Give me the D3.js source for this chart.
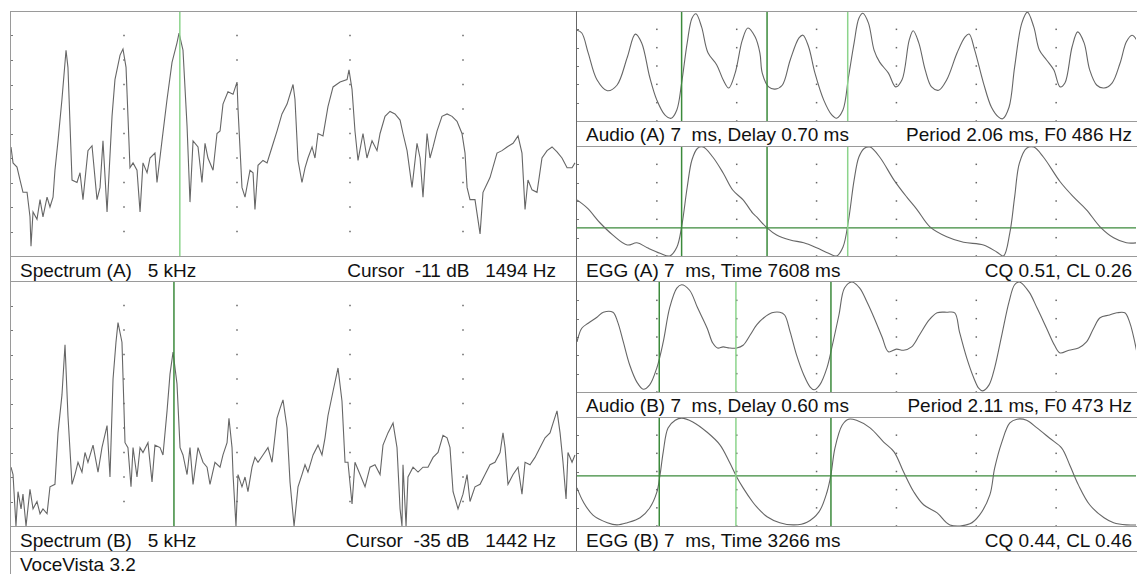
<!DOCTYPE html>
<html>
<head>
<meta charset="utf-8">
<script src="https://cdn.jsdelivr.net/npm/d3@7/dist/d3.min.js"></script>
<style>
  body { margin: 0; background: #fff; }
  text { font-family: Arial, "Liberation Sans", sans-serif; font-size: 19px; fill: #111; white-space: pre; }
</style>
</head>
<body>
<svg id="chart" width="1137" height="574"></svg>
<script>
// spectrum (A): [Hz, dB]
const specA = [[0,-55.5],[18,-62],[53,-63.7],[80,-69],[106,-74],[142,-74],[168,-84],[177,-96],[195,-82],[230,-85],
  [257,-77],[283,-84],[319,-76],[345,-80],[372,-76],[389,-65],[416,-53],[451,-36],[487,-16],[504,-23],[540,-69],
  [584,-70],[611,-66],[637,-77],[681,-57],[717,-55],[761,-77],[788,-72],[814,-53],[850,-82],[894,-43],[920,-28],
  [965,-18],[991,-15.5],[1018,-23],[1053,-64],[1080,-62],[1115,-65],[1142,-82],[1168,-62],[1204,-66],[1230,-60],
  [1274,-58],[1292,-70],[1336,-53],[1381,-36],[1425,-21],[1469,-13],[1487,-9],[1522,-16],[1558,-47],[1584,-78],
  [1611,-53],[1655,-55.5],[1690,-70],[1717,-54],[1743,-60],[1788,-65],[1823,-50],[1850,-49],[1876,-38],[1920,-33],
  [1965,-34],[2000,-29],[2009,-40],[2044,-72],[2071,-76],[2115,-65],[2142,-66],[2159,-81],[2186,-63],[2230,-61],
  [2266,-62],[2310,-55.5],[2354,-49],[2398,-42],[2443,-38],[2496,-30],[2513,-36],[2540,-61],[2575,-70],[2602,-64],
  [2628,-60],[2664,-55.5],[2690,-60],[2717,-50],[2761,-51],[2805,-39],[2850,-31],[2912,-29],[2974,-28],[2991,-24],
  [3018,-32],[3044,-49],[3071,-61],[3115,-50],[3150,-60],[3195,-53],[3239,-57],[3266,-50],[3310,-43],[3354,-41],
  [3398,-42],[3443,-44.5],[3469,-50],[3505,-57],[3549,-72],[3593,-54],[3620,-60],[3646,-76],[3682,-50],[3708,-60],
  [3735,-55.5],[3770,-49],[3814,-43],[3859,-42],[3903,-43],[3947,-45],[3991,-50],[4018,-58],[4036,-72],[4062,-77],
  [4106,-77],[4151,-91],[4177,-74],[4239,-68],[4301,-58],[4345,-57],[4390,-55.5],[4443,-54],[4487,-51],[4522,-58],
  [4549,-81],[4575,-69],[4611,-73],[4655,-74],[4699,-60],[4744,-57],[4788,-55.5],[4832,-57.5],[4876,-60],[4921,-64],
  [4965,-64],[4991,-62]];

// spectrum (B): [Hz, dB]
const specB = [[0,-76],[18,-79],[44,-100],[62,-86],[89,-93],[106,-87],[133,-100],[168,-85],[195,-93],[230,-90],
  [257,-95],[283,-93],[319,-95],[345,-84],[389,-83],[416,-62],[451,-46.5],[478,-26],[504,-55],[540,-83],[566,-79],
  [593,-74],[628,-78],[655,-70],[681,-74],[726,-67],[770,-78],[805,-68],[850,-59],[876,-80],[903,-40],[929,-25],
  [947,-17],[982,-25],[1009,-66],[1035,-68],[1062,-84],[1080,-68],[1115,-80],[1142,-68],[1168,-70],[1212,-66],
  [1248,-82],[1274,-67],[1319,-68],[1345,-71],[1381,-53],[1407,-38],[1434,-29],[1469,-42],[1496,-68],[1522,-71],
  [1558,-79],[1584,-68],[1611,-83],[1655,-68],[1699,-74],[1735,-76],[1761,-83],[1805,-74],[1850,-76],[1876,-71],
  [1912,-66],[1929,-56],[1956,-68],[1965,-79],[1991,-100],[2009,-79],[2044,-84],[2071,-80],[2097,-86],[2133,-76],
  [2159,-72],[2186,-74],[2230,-71],[2274,-68],[2310,-74],[2354,-56],[2381,-52],[2407,-48.5],[2443,-60],[2469,-82],
  [2505,-100],[2540,-84],[2575,-79],[2602,-75],[2628,-78],[2673,-71],[2717,-67],[2752,-71],[2779,-64],[2805,-55],
  [2850,-45],[2894,-35.5],[2929,-49],[2956,-74],[2982,-74],[3018,-91],[3044,-74],[3089,-79],[3133,-84],[3177,-76],
  [3221,-75],[3266,-79],[3292,-67],[3336,-62],[3381,-58],[3416,-68],[3443,-93],[3460,-100],[3469,-75],[3496,-100],
  [3513,-80],[3558,-76],[3602,-78],[3646,-76],[3690,-76],[3735,-72],[3779,-70],[3823,-63],[3859,-64],[3885,-68],
  [3912,-86],[3956,-93],[4000,-87],[4036,-79],[4062,-90],[4106,-84],[4151,-83],[4195,-79],[4239,-75],[4283,-74],
  [4328,-70],[4354,-62],[4372,-68],[4398,-83],[4443,-79],[4487,-76],[4522,-87],[4549,-74],[4593,-75],[4637,-72],
  [4682,-68],[4726,-64],[4770,-62],[4797,-58],[4832,-53],[4859,-62],[4885,-74],[4912,-89],[4929,-70],[4965,-74],
  [4991,-71]];

// audio / EGG waveforms: [ms, relative amplitude]
const audioA = [[0,0.65],[0.06,0.6],[0.14,0.24],[0.25,-0.25],[0.38,-0.45],[0.5,-0.35],[0.63,0.16],[0.73,0.58],
  [0.81,0.42],[0.91,-0.2],[1.0,-0.62],[1.1,-0.89],[1.18,-0.95],[1.25,-0.8],[1.31,-0.31],[1.38,0.42],[1.44,0.87],
  [1.49,0.95],[1.56,0.71],[1.64,0.24],[1.75,0.02],[1.83,-0.25],[1.9,-0.4],[1.98,-0.13],[2.07,0.47],[2.14,0.69],
  [2.23,0.53],[2.29,0.24],[2.32,-0.13],[2.4,-0.38],[2.48,-0.42],[2.57,-0.35],[2.67,0.11],[2.78,0.51],[2.83,0.56],
  [2.9,0.35],[2.98,-0.13],[3.09,-0.62],[3.19,-0.89],[3.25,-0.95],[3.33,-0.8],[3.4,-0.2],[3.47,0.42],[3.53,0.87],
  [3.58,0.96],[3.65,0.78],[3.72,0.29],[3.79,0.07],[3.9,-0.13],[3.99,-0.38],[4.07,-0.25],[4.16,0.47],[4.21,0.64],
  [4.28,0.42],[4.36,-0.07],[4.44,-0.38],[4.53,-0.44],[4.63,-0.25],[4.76,0.24],[4.86,0.53],[4.91,0.58],[4.98,0.29],
  [5.09,-0.31],[5.19,-0.75],[5.28,-0.93],[5.33,-0.96],[5.41,-0.75],[5.48,-0.02],[5.57,0.78],[5.64,0.98],[5.72,0.71],
  [5.79,0.29],[5.88,0.11],[5.97,-0.07],[6.05,-0.38],[6.11,-0.31],[6.2,0.35],[6.27,0.62],[6.35,0.42],[6.42,-0.07],
  [6.51,-0.35],[6.6,-0.4],[6.7,-0.31],[6.8,0.05],[6.88,0.44],[6.95,0.56],[7.01,0.47]];

const eggA = [[0,0.02],[0.13,-0.13],[0.29,-0.4],[0.45,-0.62],[0.63,-0.8],[0.75,-0.76],[0.88,-0.85],[1.04,-0.95],
  [1.16,-1.0],[1.25,-0.84],[1.31,-0.47],[1.38,0.25],[1.44,0.75],[1.51,0.96],[1.58,0.98],[1.7,0.8],[1.83,0.51],
  [1.95,0.2],[2.08,0.02],[2.2,-0.22],[2.25,-0.29],[2.38,-0.49],[2.5,-0.62],[2.67,-0.71],[2.84,-0.76],[3.0,-0.85],
  [3.15,-0.95],[3.25,-1.0],[3.33,-0.84],[3.4,-0.35],[3.47,0.38],[3.53,0.8],[3.6,0.96],[3.67,0.98],[3.79,0.8],
  [3.97,0.38],[4.13,0.07],[4.26,-0.16],[4.42,-0.47],[4.63,-0.65],[4.84,-0.75],[5.09,-0.8],[5.26,-0.93],[5.34,-1.0],
  [5.42,-0.58],[5.48,0.07],[5.54,0.69],[5.63,0.96],[5.72,0.98],[5.84,0.8],[6.05,0.35],[6.22,0.07],[6.38,-0.16],
  [6.55,-0.47],[6.72,-0.67],[6.88,-0.76],[7.01,-0.76]];

const audioB = [[0,-0.09],[0.06,0.16],[0.14,0.25],[0.25,0.36],[0.33,0.45],[0.45,0.45],[0.51,0.27],[0.58,-0.09],
  [0.66,-0.51],[0.75,-0.82],[0.83,-0.95],[0.91,-0.87],[1.0,-0.56],[1.08,-0.09],[1.16,0.53],[1.25,0.89],[1.31,0.95],
  [1.41,0.85],[1.51,0.53],[1.63,0.16],[1.7,-0.11],[1.76,-0.2],[1.83,-0.18],[1.91,-0.2],[2.0,-0.2],[2.08,-0.15],
  [2.17,0.04],[2.25,0.22],[2.34,0.35],[2.44,0.44],[2.54,0.45],[2.6,0.4],[2.67,0.09],[2.75,-0.33],[2.84,-0.69],
  [2.92,-0.91],[2.97,-0.96],[3.04,-0.87],[3.13,-0.56],[3.19,-0.2],[3.28,0.4],[3.35,0.89],[3.44,1.0],[3.54,0.89],
  [3.63,0.64],[3.72,0.35],[3.82,0.0],[3.9,-0.27],[4.0,-0.22],[4.09,-0.24],[4.19,-0.18],[4.29,0.04],[4.41,0.31],
  [4.51,0.44],[4.63,0.45],[4.73,0.44],[4.79,0.09],[4.88,-0.38],[4.97,-0.75],[5.03,-0.93],[5.08,-0.98],[5.16,-0.87],
  [5.23,-0.56],[5.32,0.04],[5.41,0.64],[5.48,0.95],[5.54,1.0],[5.66,0.82],[5.76,0.53],[5.88,0.16],[5.98,-0.15],
  [6.05,-0.29],[6.16,-0.24],[6.28,-0.2],[6.38,-0.09],[6.47,0.16],[6.55,0.35],[6.67,0.4],[6.76,0.44],[6.86,0.44],
  [6.92,0.27],[7.01,-0.27]];

const eggB = [[0,-0.3],[0.08,-0.56],[0.2,-0.8],[0.38,-0.94],[0.5,-0.98],[0.63,-0.94],[0.79,-0.85],[0.91,-0.67],
  [1.0,-0.38],[1.04,-0.06],[1.08,0.36],[1.14,0.8],[1.23,0.94],[1.31,0.98],[1.45,0.91],[1.63,0.72],[1.79,0.49],
  [1.91,0.17],[2.0,-0.1],[2.08,-0.3],[2.2,-0.56],[2.25,-0.65],[2.38,-0.83],[2.54,-0.94],[2.72,-0.98],[2.88,-0.93],
  [3.03,-0.74],[3.13,-0.38],[3.18,-0.06],[3.23,0.43],[3.32,0.85],[3.4,0.96],[3.5,0.94],[3.67,0.8],[3.84,0.54],
  [3.97,0.36],[4.09,-0.01],[4.22,-0.38],[4.34,-0.61],[4.51,-0.76],[4.67,-0.98],[4.92,-0.96],[5.04,-0.8],
  [5.17,-0.43],[5.23,0.06],[5.32,0.54],[5.42,0.89],[5.51,0.96],[5.63,0.94],[5.76,0.8],[5.92,0.61],[6.07,0.43],
  [6.17,0.12],[6.28,-0.25],[6.42,-0.61],[6.6,-0.85],[6.72,-0.94],[6.88,-0.98],[7.01,-0.98]];

// cursors and markers
const cursorA = 1494, cursorB = 1442;            // Hz
const markersA = [[1.31, "dark"], [2.38, "dark"], [3.39, "light"]];   // ms
const markersB = [[1.03, "dark"], [1.99, "light"], [3.18, "dark"]];
const levelA = -0.49, levelB = -0.08;            // EGG threshold
const specTicks = [1000, 2000, 3000, 4000];
const specLevels = [-10, -20, -30, -40, -50, -60, -70, -80, -90];
const waveTicks = [1, 2, 3, 4, 5, 6];
const waveLevels = [2/3, 1/3, 0, -1/3, -2/3, -1];

const labels = [
  { x: 20, y: 277, t: "Spectrum (A)   5 kHz" },
  { x: 556, y: 277, t: "Cursor  -11 dB   1494 Hz", end: true },
  { x: 20, y: 547, t: "Spectrum (B)   5 kHz" },
  { x: 556, y: 547, t: "Cursor  -35 dB   1442 Hz", end: true },
  { x: 586, y: 141, t: "Audio (A) 7  ms, Delay 0.70 ms" },
  { x: 1132, y: 141, t: "Period 2.06 ms, F0 486 Hz", end: true },
  { x: 586, y: 277, t: "EGG (A) 7  ms, Time 7608 ms" },
  { x: 1132, y: 277, t: "CQ 0.51, CL 0.26", end: true },
  { x: 586, y: 412, t: "Audio (B) 7  ms, Delay 0.60 ms" },
  { x: 1132, y: 412, t: "Period 2.11 ms, F0 473 Hz", end: true },
  { x: 586, y: 547, t: "EGG (B) 7  ms, Time 3266 ms" },
  { x: 1132, y: 547, t: "CQ 0.44, CL 0.46", end: true },
  { x: 20, y: 571, t: "VoceVista 3.2" }
];

const svg = d3.select("#chart");
const green = { dark: "#3b8a3b", light: "#8cd48c" };

const xSpec = d3.scaleLinear().domain([0, 5000]).range([11, 576]);
const xWave = d3.scaleLinear().domain([0, 7]).range([577, 1136]);

const panels = [
  { id: "sa", kind: "spec", data: specA, x: xSpec, y: d3.scaleLinear().domain([0, -100]).range([11, 256]) },
  { id: "sb", kind: "spec", data: specB, x: xSpec, y: d3.scaleLinear().domain([0, -100]).range([281, 526]) },
  { id: "aa", kind: "wave", data: audioA, x: xWave, y: d3.scaleLinear().domain([-1, 1]).range([121, 11]) },
  { id: "ea", kind: "wave", data: eggA, x: xWave, y: d3.scaleLinear().domain([-1, 1]).range([256, 146]), level: levelA },
  { id: "ab", kind: "wave", data: audioB, x: xWave, y: d3.scaleLinear().domain([-1, 1]).range([392, 282]) },
  { id: "eb", kind: "wave", data: eggB, x: xWave, y: d3.scaleLinear().domain([-1, 1]).range([526, 417]), level: levelB }
];

const defs = svg.append("defs");

panels.forEach(function (p) {
  const x0 = p.x.range()[0], x1 = p.x.range()[1];
  const yr = p.y.range(), y0 = Math.min(yr[0], yr[1]), y1 = Math.max(yr[0], yr[1]);
  defs.append("clipPath").attr("id", "clip-" + p.id)
    .append("rect").attr("x", x0).attr("y", y0).attr("width", x1 - x0).attr("height", y1 - y0);

  const g = svg.append("g");
  const xt = p.kind === "spec" ? specTicks : waveTicks;
  const yl = p.kind === "spec" ? specLevels : waveLevels;

  // dotted grid
  xt.forEach(function (t) {
    g.selectAll(null).data(yl).enter().append("rect")
      .attr("x", p.x(t) - 0.75).attr("y", d => p.y(d) - 0.75)
      .attr("width", 1.5).attr("height", 1.5).attr("fill", "#666");
  });
  // left edge ticks
  g.selectAll(null).data(yl).enter().append("line")
    .attr("x1", x0).attr("x2", x0 + 2)
    .attr("y1", d => Math.round(p.y(d)) + 0.5).attr("y2", d => Math.round(p.y(d)) + 0.5)
    .attr("stroke", "#777");

  const gc = g.append("g").attr("clip-path", "url(#clip-" + p.id + ")");

  if (p.level !== undefined) {
    gc.append("line").attr("x1", x0).attr("x2", x1)
      .attr("y1", p.y(p.level)).attr("y2", p.y(p.level))
      .attr("stroke", green.dark).attr("stroke-width", 1.2);
  }

  const line = d3.line()
    .x(d => p.x(d[0])).y(d => p.y(d[1]))
    .curve(p.kind === "spec" ? d3.curveLinear : d3.curveCatmullRom.alpha(0.5));
  gc.append("path").datum(p.data).attr("d", line)
    .attr("fill", "none").attr("stroke", "#666").attr("stroke-width", 1.1);
});

// cursors on spectra
svg.append("line").attr("x1", xSpec(cursorA)).attr("x2", xSpec(cursorA)).attr("y1", 11).attr("y2", 256)
  .attr("stroke", green.light).attr("stroke-width", 1.5);
svg.append("line").attr("x1", xSpec(cursorB)).attr("x2", xSpec(cursorB)).attr("y1", 281).attr("y2", 526)
  .attr("stroke", green.dark).attr("stroke-width", 1.5);

// period markers on waveforms (span audio + EGG, not the label bar)
[[markersA, [11, 121], [146, 256]], [markersB, [282, 392], [417, 526]]].forEach(function (m) {
  m[0].forEach(function (d) {
    [m[1], m[2]].forEach(function (r) {
      svg.append("line").attr("x1", xWave(d[0])).attr("x2", xWave(d[0]))
        .attr("y1", r[0]).attr("y2", r[1])
        .attr("stroke", green[d[1]]).attr("stroke-width", 1.5);
    });
  });
});

// frame lines
const frame = svg.append("g").attr("stroke", "#9a9a9a").attr("stroke-width", 1);
[11, 256, 281, 526, 551].forEach(function (y) {
  frame.append("line").attr("x1", 10.5).attr("x2", 1137).attr("y1", y + 0.5).attr("y2", y + 0.5);
});
[121, 146, 392, 417].forEach(function (y) {
  frame.append("line").attr("x1", 576.5).attr("x2", 1137).attr("y1", y + 0.5).attr("y2", y + 0.5);
});
frame.append("line").attr("x1", 10.5).attr("x2", 10.5).attr("y1", 11).attr("y2", 574);
frame.append("line").attr("x1", 576.5).attr("x2", 576.5).attr("y1", 11).attr("y2", 551).attr("stroke", "#666");

// labels
svg.selectAll("text.lbl").data(labels).enter().append("text")
  .attr("class", "lbl")
  .attr("x", d => d.x).attr("y", d => d.y)
  .attr("text-anchor", d => d.end ? "end" : "start")
  .text(d => d.t);
</script>
</body>
</html>
